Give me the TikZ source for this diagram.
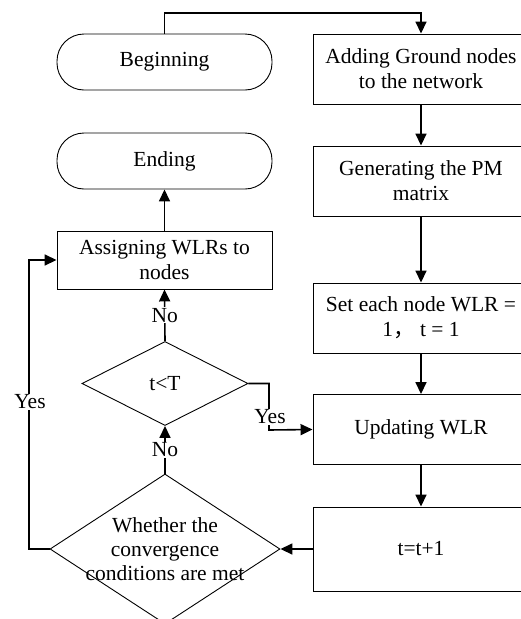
\documentclass[tikz,border=0pt]{standalone}
\usepackage{fontspec}
\setmainfont{Liberation Serif}
\newfontfamily\cjk{Noto Sans CJK SC}
\usetikzlibrary{shapes.geometric,arrows.meta}
\begin{document}
\begin{tikzpicture}[x=1pt,y=-1pt,
  every node/.style={font=\fontsize{21.5}{25}\selectfont},
  box/.style={draw, line width=0.9pt, minimum width=216pt, minimum height=70pt, align=center, inner sep=2pt},
  term/.style={draw, line width=0.9pt, rounded corners=27pt, minimum width=215pt, minimum height=56pt},
  dec/.style={draw, diamond, line width=0.9pt, inner sep=0pt},
  conn/.style={line width=1.6pt, -{Triangle[length=12pt,width=11pt]}},
  lab/.style={fill=white, inner sep=1pt}]
\useasboundingbox (0,0) rectangle (520,619);
% left column
\node[term] (begin) at (164.5,62) {Beginning};
\node[term] (end) at (164.5,161) {Ending};
\node[box, minimum width=215pt, minimum height=58pt] (assign) at (164.5,260) {Assigning WLRs to\\nodes};
\node[dec, minimum width=166pt, minimum height=84pt] (tlt) at (165,383.5) {t<T};
\node[dec, minimum width=230pt, minimum height=150pt,
      label={[align=center, font=\fontsize{21.5}{24}\selectfont]center:Whether the\\convergence\\conditions are met}] (conv) at (165,549) {};
% right column
\node[box] (add) at (421,69) {Adding Ground nodes\\to the network};
\node[box] (gen) at (421,181) {Generating the PM\\matrix};
\node[box] (set) at (421,318) {Set each node WLR =\\1{\cjk ，} t = 1};
\node[box] (upd) at (421,429.5) {Updating WLR};
\node[box, minimum height=84pt] (tt) at (421,549) {t=t+1};
% connectors
\coordinate (top) at (421,13);
\draw[conn] (begin.north) |- (top) -- (add.north);
\draw[conn] (add.south) -- (gen.north);
\draw[conn] (gen.south) -- (set.north);
\draw[conn] (set.south) -- (upd.north);
\draw[conn] (upd.south) -- (tt.north);
\draw[conn] (tt.west) -- (conv.east);
\draw[conn] (conv.north) -- node[lab] (no2) {No} (tlt.south);
\draw[conn] (tlt.north) -- node[lab] (no1) {No} (assign.south);
\draw[conn] (assign.north) -- (end.south);
\coordinate (lc) at (29,260);
\draw[conn] (conv.west) -| (lc) -- (assign.west);
\node[lab] (yes1) at (30,402) {Yes};
\coordinate (rc) at (269,430);
\draw[conn] (tlt.east) -| (rc) -- (upd.west);
\node[lab] (yes2) at (270,417) {Yes};
\end{tikzpicture}
\end{document}
